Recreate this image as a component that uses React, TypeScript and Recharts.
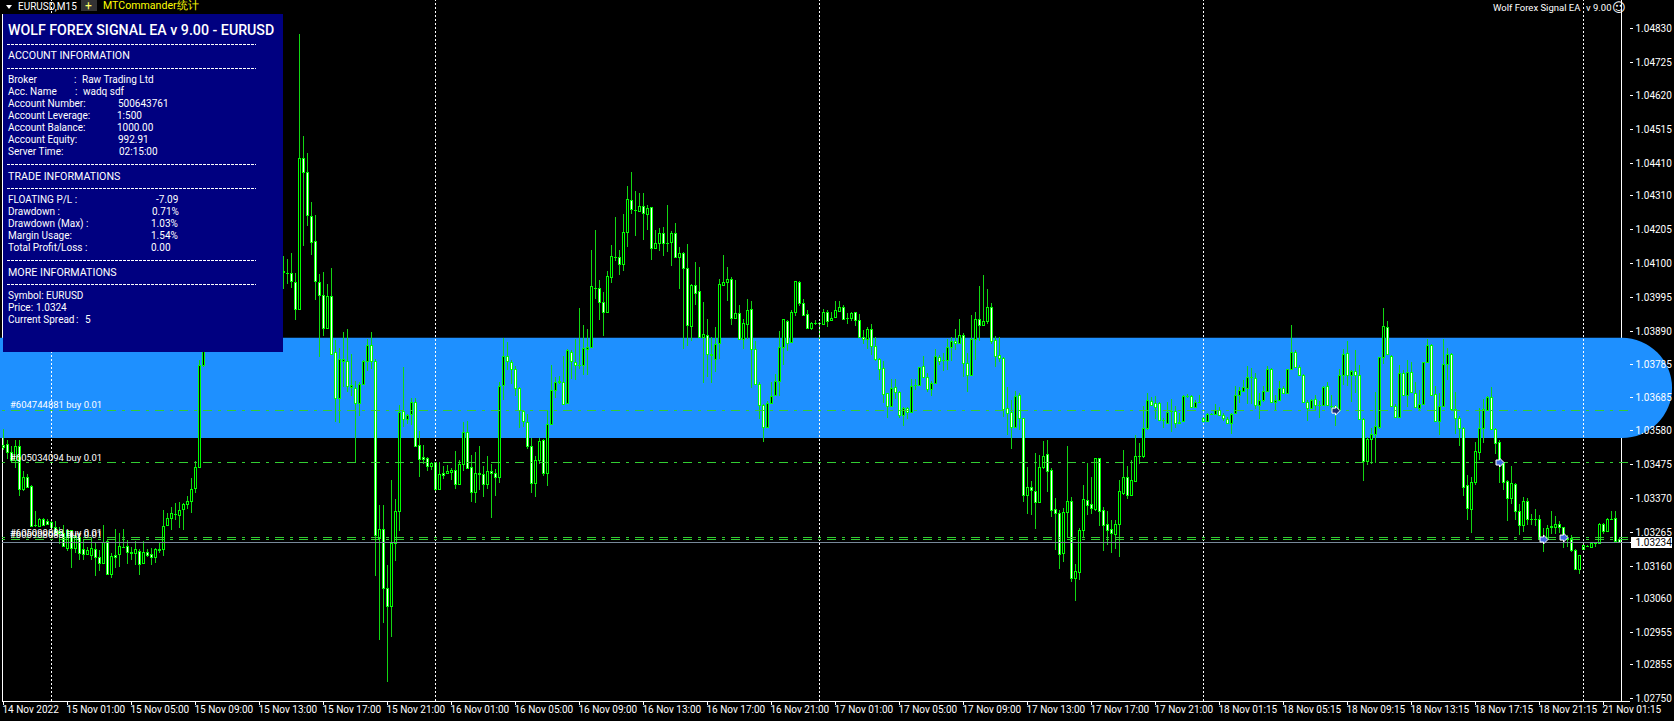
import React from "react";
import {
  ComposedChart,
  Bar,
  XAxis,
  YAxis,
  ReferenceLine,
  ReferenceArea,
  ReferenceDot,
} from "recharts";

// EURUSD M15, values in points (0.00001) above BASE_PRICE.
// Bars 51-69 sit behind the info panel, those are only rough estimates.
const BASE_PRICE = 1.03;

const opens = [
  536,538,515,491,534,401,438,410,288,285,307,301,296,282,270,262,218,272,217,251,
  212,198,194,215,189,171,238,135,195,197,220,224,203,200,208,171,205,199,189,210,
  212,288,311,322,319,337,352,364,403,469,786,835,856,878,862,895,920,908,945,970,
  955,995,1025,1010,1050,1075,1060,1090,1075,1100,1076,1069,1069,1043,958,1426,1385,1248,1171,1043,
  1002,901,999,824,681,798,796,715,714,667,726,796,848,796,249,277,93,37,233,332,
  643,616,634,671,535,498,495,472,483,401,449,449,454,458,416,476,576,467,391,451,
  445,414,455,451,438,722,813,795,771,712,643,609,534,419,491,552,450,603,707,731,
  733,667,826,795,784,784,835,841,1025,1025,981,950,1059,1121,1119,1099,1198,1296,1265,1264,
  1279,1254,1274,1148,1165,1196,1164,1166,1193,1121,1131,1085,907,1032,1013,872,879,818,804,852,
  1034,1043,1053,931,945,865,913,960,835,727,660,591,667,691,736,841,922,855,950,1041,
  978,942,901,915,915,913,948,923,934,951,964,931,931,948,924,873,865,896,845,803,
  775,697,659,715,702,631,652,640,723,724,781,749,711,730,811,799,800,842,860,854,
  877,792,753,866,927,910,920,964,862,817,806,652,638,593,691,619,382,405,395,361,
  467,507,458,337,324,200,329,362,122,143,271,365,353,338,495,334,290,275,261,290,
  388,436,381,426,503,502,590,674,666,668,615,606,641,643,607,612,689,689,653,669,
  612,612,634,634,646,628,618,606,635,693,705,712,747,744,660,675,705,772,671,676,
  713,699,772,826,780,753,671,650,678,662,660,718,659,658,645,755,823,753,767,755,
  616,487,554,570,592,809,902,813,659,623,759,692,764,699,651,664,793,846,694,612,
  656,787,819,647,619,588,411,339,423,516,588,645,685,586,545,482,424,371,416,332,
  288,363,307,307,306,250,244,285,281,290,281,249,247,210,151,215,224,221,232,231,
  290,268,308,309,244,
];
const highs = [
  585,551,533,551,553,456,446,412,331,309,310,306,303,300,282,287,274,274,256,262,
  241,220,251,231,210,287,241,200,275,262,275,241,220,239,215,238,215,217,217,231,
  336,326,344,355,358,357,379,435,486,800,860,870,890,905,900,935,950,960,985,1000,
  1010,1040,1060,1065,1090,1100,1110,1115,1120,1120,1123,1113,1131,1069,1812,1496,1442,1290,1250,1067,
  1074,1036,1085,862,839,888,898,820,735,733,800,867,886,802,350,350,163,429,370,660,
  779,634,681,681,579,536,500,485,483,483,471,474,466,518,490,608,611,505,515,533,
  471,502,476,461,731,870,855,800,781,715,645,634,559,502,557,556,645,784,746,750,
  812,834,831,867,963,909,895,1141,1204,1048,1010,1076,1157,1244,1141,1253,1340,1384,1325,1318,
  1318,1281,1276,1204,1209,1212,1281,1200,1227,1150,1136,1159,1036,1103,1088,979,929,872,903,1053,
  1126,1088,1057,1048,971,929,989,983,859,733,663,674,731,756,890,927,924,955,1047,1044,
  991,957,919,924,919,958,956,948,984,982,971,945,950,950,943,894,902,912,871,805,
  797,699,740,740,704,655,655,740,740,780,813,759,734,835,815,821,865,871,897,928,
  883,821,940,950,1030,1064,1021,976,875,871,809,716,676,704,697,621,467,425,511,505,
  549,552,466,372,335,341,533,374,167,278,412,482,436,495,495,345,332,304,304,428,
  521,471,490,568,544,658,697,685,689,671,619,669,679,658,635,692,695,691,676,692,
  624,635,637,664,653,635,623,637,718,716,738,782,775,759,699,720,783,775,692,735,
  718,772,909,830,786,756,676,678,692,672,718,733,692,662,772,834,860,770,832,785,
  619,562,588,701,811,961,922,816,664,785,770,801,793,733,707,795,865,849,720,697,
  865,837,823,702,625,592,443,438,545,650,678,689,716,588,552,485,428,471,418,353,
  376,371,322,337,319,278,288,332,316,299,283,257,257,212,195,226,226,233,235,295,
  295,309,330,332,250,
];
const lows = [
  520,491,481,463,379,394,403,284,282,282,285,288,272,256,228,220,210,155,200,179,
  179,194,179,129,146,168,135,121,153,158,215,166,179,166,135,166,191,163,170,200,
  194,285,274,303,277,274,339,327,388,467,779,826,840,850,845,880,900,895,930,945,
  940,980,1000,995,1030,1045,1040,1060,1050,1060,1022,1036,1022,922,957,1155,1214,1126,985,808,
  875,895,818,608,606,717,701,691,482,629,722,769,771,127,-70,-16,-200,-57,179,270,
  593,603,598,528,436,477,457,459,388,400,431,446,428,399,416,457,464,360,357,395,
  376,400,308,376,417,678,767,727,689,587,593,526,388,376,475,440,410,598,681,725,
  660,665,740,740,774,753,751,839,991,924,872,947,1040,1108,1062,1077,1152,1253,1185,1263,
  1173,1204,1110,1145,1138,1123,1136,1090,1118,1020,836,841,859,969,872,727,750,730,764,805,
  1030,983,907,927,862,837,865,714,722,619,546,590,665,689,689,784,829,852,938,965,
  938,898,893,909,865,909,902,920,932,948,927,912,921,906,868,852,835,816,798,738,
  666,621,656,679,621,597,617,638,705,722,747,699,687,728,785,764,769,798,831,852,
  745,701,751,800,860,906,912,850,780,792,624,568,524,588,583,361,322,319,276,358,
  462,392,314,210,151,173,247,109,53,117,247,322,322,332,283,209,226,202,214,190,
  381,370,378,424,480,498,583,658,619,612,588,604,578,590,604,609,684,650,650,666,
  609,610,632,633,625,609,606,573,633,666,702,664,664,647,618,671,703,669,645,673,
  697,697,770,775,751,666,611,647,645,618,658,658,643,597,643,723,721,671,697,614,
  423,475,475,482,588,788,816,654,619,619,689,656,697,651,645,660,790,690,609,566,
  654,738,645,573,531,378,302,264,412,490,540,643,583,506,420,397,302,353,304,257,
  268,288,288,285,244,202,242,262,260,262,217,221,205,149,136,213,222,221,221,229,
  262,265,302,234,233,
];
const closes = [
  531,515,491,534,401,438,406,285,288,307,288,292,282,262,262,223,272,218,253,200,
  198,210,218,189,171,236,135,193,190,224,220,205,200,212,168,203,195,189,215,215,
  286,311,324,322,336,352,364,401,467,786,835,856,878,862,895,920,908,945,970,955,
  995,1025,1010,1050,1075,1060,1090,1075,1100,1076,1074,1071,1044,958,1426,1383,1250,1166,1045,1003,
  901,999,820,683,802,802,720,722,667,726,796,848,796,256,277,91,37,231,332,638,
  616,630,671,533,494,493,472,480,401,445,444,455,459,416,476,576,464,391,451,445,
  414,455,450,436,719,813,797,771,712,645,611,534,419,491,548,450,603,707,731,735,
  665,831,797,786,784,836,842,1030,1023,981,950,1061,1122,1121,1099,1199,1299,1268,1265,1277,
  1257,1271,1149,1165,1196,1164,1164,1193,1120,1131,1087,909,1033,1009,872,882,818,815,851,1035,
  1041,1053,931,945,865,914,957,835,726,660,591,668,689,736,841,926,852,950,1044,978,
  940,901,914,914,915,949,920,932,955,964,928,930,945,923,871,865,896,845,803,773,
  695,656,712,702,631,652,638,720,723,778,749,709,730,814,797,799,842,860,852,877,
  792,753,865,927,910,920,964,860,814,805,649,637,593,687,619,382,405,397,361,467,
  503,457,335,326,198,329,364,122,144,272,368,351,342,495,333,289,274,264,290,393,
  436,381,428,502,502,590,675,660,655,614,613,638,641,606,604,689,689,653,671,669,
  621,634,634,646,628,619,606,634,693,708,715,749,747,660,676,705,772,671,676,713,
  699,772,826,778,753,669,650,676,662,662,716,660,659,651,755,820,755,767,755,616,
  488,554,570,594,809,906,819,656,623,759,692,764,702,654,664,793,846,693,612,658,
  787,819,647,619,588,407,342,421,517,590,647,685,585,542,490,423,373,418,333,288,
  363,306,307,307,249,237,280,281,290,283,252,244,209,152,195,225,224,232,232,290,
  268,306,308,239,234,
];

const timeLabels = [
  "14 Nov 2022", "15 Nov 01:00", "15 Nov 05:00", "15 Nov 09:00", "15 Nov 13:00", "15 Nov 17:00",
  "15 Nov 21:00", "16 Nov 01:00", "16 Nov 05:00", "16 Nov 09:00", "16 Nov 13:00", "16 Nov 17:00",
  "16 Nov 21:00", "17 Nov 01:00", "17 Nov 05:00", "17 Nov 09:00", "17 Nov 13:00", "17 Nov 17:00",
  "17 Nov 21:00", "18 Nov 01:15", "18 Nov 05:15", "18 Nov 09:15", "18 Nov 13:15", "18 Nov 17:15",
  "18 Nov 21:15", "21 Nov 01:15",
];
const BARS_PER_LABEL = 16;
const dayStarts = [12, 108, 204, 300, 395];

const CURRENT_PRICE = 1.03234;
const priceTicks = [
  1.0483, 1.04725, 1.0462, 1.04515, 1.0441, 1.0431, 1.04205, 1.041, 1.03995, 1.0389, 1.03785,
  1.03685, 1.0358, 1.03475, 1.0337, 1.03265, CURRENT_PRICE, 1.0316, 1.0306, 1.02955, 1.02855, 1.0275,
];

const orderLines = [
  { price: 1.03644, label: "#604744881 buy 0.01" },
  { price: 1.03482, label: "#605034094 buy 0.01" },
  { price: 1.03249, label: "#605090883 buy 0.01" },
  { price: 1.03243, label: "#606908083 buy 0.01" },
];
const entryArrows = [
  { bar: 333, price: 1.03643, fill: "#1c2a78" },
  { bar: 374, price: 1.03482, fill: "#4169e1" },
  { bar: 385, price: 1.03243, fill: "#4169e1" },
  { bar: 390, price: 1.03249, fill: "#4169e1" },
];
const BAND_TOP = 1.03869;
const BAND_BOTTOM = 1.03558;

const rows = opens.map((o, i) => ({
  bar: i,
  open: BASE_PRICE + o / 1e5,
  high: BASE_PRICE + highs[i] / 1e5,
  low: BASE_PRICE + lows[i] / 1e5,
  close: BASE_PRICE + closes[i] / 1e5,
  range: [BASE_PRICE + lows[i] / 1e5, BASE_PRICE + highs[i] / 1e5],
}));

const UI_FONT = "Roboto, 'Noto Sans', sans-serif";
const GREEN = "#00ff00";
const ORDER_GREEN = "#32cd32";

const Candle = (props: any) => {
  const { x, y, width, height, payload } = props;
  const perPrice = height / (payload.high - payload.low);
  const yOf = (v: number) => y + (payload.high - v) * perPrice;
  const xc = Math.floor(x + width / 2);
  const top = Math.round(yOf(Math.max(payload.open, payload.close)));
  const bottom = Math.round(yOf(Math.min(payload.open, payload.close)));
  const bodyH = Math.max(bottom - top + 1, 1);
  const fill = payload.close < payload.open ? "#ffffff" : "#000000";
  return (
    <g>
      <rect x={xc} y={Math.round(y)} width={1} height={Math.max(Math.round(height), 1)} fill="#12d612" />
      <rect x={xc - 1} y={top} width={3} height={bodyH} fill={GREEN} />
      {bodyH > 2 && <rect x={xc} y={top + 1} width={1} height={bodyH - 2} fill={fill} />}
    </g>
  );
};

// the band is an object on the chart, it covers both frame lines but not the prices
const BandShape = (props: any) => {
  const { x, y, width, height } = props;
  const right = x + width + 0.5;
  const r = height / 2;
  return (
    <g>
      <rect x={x + 0.5} y={14} width={1} height={687} fill="#fff" />
      <rect x={right - 1} y={0} width={1} height={701} fill="#fff" />
      <path
        d={`M0 ${y}H${right}A${r} ${r} 0 0 1 ${right} ${y + height}H0Z`}
        fill="#1e90ff"
        style={{ shapeRendering: "auto" }}
      />
    </g>
  );
};

const PriceTick = (props: any) => {
  const { y, payload } = props;
  const isCurrent = payload.value === CURRENT_PRICE;
  return (
    <g>
      {isCurrent && <rect x={1631} y={y - 5} width={41} height={11} fill="#fff" />}
      <text
        x={1635.5}
        y={y + 3.5}
        fill={isCurrent ? "#000" : "#fff"}
        fontFamily={UI_FONT}
        fontSize={10}
      >
        {payload.value.toFixed(5)}
      </text>
    </g>
  );
};

const TimeTick = (props: any) => {
  const { x, y, payload } = props;
  return (
    <text x={x - 1} y={y + 6} fill="#fff" fontFamily={UI_FONT} fontSize={10}>
      {timeLabels[payload.value / BARS_PER_LABEL]}
    </text>
  );
};

const OrderTag = (props: any) => {
  const { viewBox, text } = props;
  return (
    <text x={10} y={viewBox.y - 2} fill="#fff" fontFamily={UI_FONT} fontSize={9.5}>
      {text}
    </text>
  );
};

const ArrowShape = (props: any) => {
  const { cx, cy, fill } = props;
  const pts = [
    [-3.5, -2.5], [0, -2.5], [0, -4.5], [4.5, 0], [0, 4.5], [0, 2.5], [-3.5, 2.5],
  ].map(([a, b]) => `${cx + a},${cy + b}`).join(" ");
  return <polygon points={pts} fill={fill} stroke="#fff" strokeWidth={1} style={{ shapeRendering: "auto" }} />;
};

// the EA info panel, left/top in px inside the panel box
const panelHeads: [string, number][] = [
  ["ACCOUNT INFORMATION", 36],
  ["TRADE INFORMATIONS", 157],
  ["MORE INFORMATIONS", 253],
];
const panelTexts: [string, number, number][] = [
  ["Broker", 5, 60], [":", 71, 60], ["Raw Trading Ltd", 79, 60],
  ["Acc. Name", 5, 72], [":", 72, 72], ["wadq sdf", 80, 72],
  ["Account Number:", 5, 84], ["500643761", 115, 84],
  ["Account Leverage:", 5, 96], ["1:500", 114, 96],
  ["Account Balance:", 5, 108], ["1000.00", 114, 108],
  ["Account Equity:", 5, 120], ["992.91", 115, 120],
  ["Server Time:", 5, 132], ["02:15:00", 116, 132],
  ["FLOATING P/L :", 5, 180], ["-7.09", 153, 180],
  ["Drawdown :", 5, 192], ["0.71%", 149, 192],
  ["Drawdown (Max) :", 5, 204], ["1.03%", 148, 204],
  ["Margin Usage:", 5, 216], ["1.54%", 148, 216],
  ["Total Profit/Loss :", 5, 228], ["0.00", 148, 228],
  ["Symbol: EURUSD", 5, 276],
  ["Price:", 5, 288], ["1.0324", 33, 288],
  ["Current Spread", 5, 300], [":", 73, 300], ["5", 82, 300],
];
const panelRules = [30, 54, 150, 174, 246, 270];

const absText = (x: number, y: number, extra: React.CSSProperties = {}): React.CSSProperties => ({
  position: "absolute",
  left: x,
  top: y,
  whiteSpace: "pre",
  lineHeight: "12px",
  color: "#fff",
  fontFamily: UI_FONT,
  fontSize: 10,
  ...extra,
});

const InfoPanel = () => (
  <div style={{ position: "absolute", left: 3, top: 14, width: 280, height: 338, background: "#000080" }}>
    <div style={absText(5, 9, { fontSize: 14.2, fontWeight: 500, lineHeight: "14px" })}>
      WOLF FOREX SIGNAL EA v 9.00 - EURUSD
    </div>
    {panelRules.map((t) => (
      <div
        key={t}
        style={{
          position: "absolute",
          left: 4,
          top: t,
          width: 249,
          height: 1,
          background: "repeating-linear-gradient(90deg,#fff 0 3px,transparent 3px 4px)",
        }}
      />
    ))}
    {panelHeads.map(([t, y]) => (
      <div key={t} style={absText(5, y, { fontSize: 10.7 })}>
        {t}
      </div>
    ))}
    {panelTexts.map(([t, x, y]) => (
      <div key={t + x + y} style={absText(x, y)}>
        {t}
      </div>
    ))}
  </div>
);

const TabStrip = () => (
  <>
    <div
      style={{
        position: "absolute",
        left: 6,
        top: 5,
        width: 0,
        height: 0,
        borderLeft: "3.5px solid transparent",
        borderRight: "3.5px solid transparent",
        borderTop: "4px solid #fff",
      }}
    />
    <div style={absText(18, 1, { fontSize: 10 })}>EURUSD,M15</div>
    <div style={{ position: "absolute", left: 81, top: 0, width: 16, height: 11, background: "#333" }} />
    <div style={absText(85, 0, { fontSize: 12, color: "#ffff66" })}>+</div>
    <div style={absText(103, 0, { fontSize: 10.6, color: "#ffff00" })}>MTCommander统计</div>
    <div style={absText(1493, 2, { fontSize: 9.5 })}>Wolf Forex Signal EA</div>
    <div style={absText(1586, 2, { fontSize: 9.5 })}>v 9.00</div>
    <div style={absText(1612, 2, { fontSize: 13, fontFamily: "'DejaVu Sans'" })}>☺</div>
  </>
);

export default function App() {
  return (
    <div
      style={{
        position: "absolute",
        left: 0,
        top: 0,
        width: 1674,
        height: 721,
        background: "#000",
        overflow: "hidden",
      }}
    >
      <ComposedChart
        width={1674}
        height={721}
        data={rows}
        barCategoryGap={0}
        margin={{ top: 0, right: 0, bottom: 0, left: 1.5 }}
        style={{ shapeRendering: "crispEdges" }}
      >
        <XAxis
          dataKey="bar"
          height={20}
          padding={{ left: 0, right: 8 }}
          ticks={timeLabels.map((_, i) => i * BARS_PER_LABEL)}
          interval={0}
          tick={<TimeTick />}
          tickSize={4}
          tickLine={{ stroke: "#fff" }}
          axisLine={{ stroke: "#fff" }}
        />
        <YAxis
          orientation="right"
          width={44.5}
          domain={[1.027417, 1.049178]}
          allowDataOverflow
          ticks={priceTicks}
          interval={0}
          tick={<PriceTick />}
          tickSize={3}
          tickLine={{ stroke: "#fff" }}
          axisLine={false}
        />
        {dayStarts.map((b) => (
          <ReferenceLine key={b} x={b} stroke="#fff" strokeDasharray="2 2" />
        ))}
        <ReferenceArea y1={BAND_BOTTOM} y2={BAND_TOP} shape={<BandShape />} ifOverflow="visible" />
        {orderLines.map((l) => (
          <ReferenceLine
            key={l.price}
            y={l.price}
            stroke={ORDER_GREEN}
            strokeDasharray="9 6 3 6"
            strokeDashoffset={-1.5}
            label={<OrderTag text={l.label} />}
          />
        ))}
        <ReferenceLine y={CURRENT_PRICE} stroke="#778899" />
        <Bar dataKey="range" shape={<Candle />} isAnimationActive={false} />
        {entryArrows.map((a) => (
          <ReferenceDot key={a.bar} x={a.bar} y={a.price} fill={a.fill} shape={<ArrowShape />} />
        ))}
      </ComposedChart>
      <InfoPanel />
      <TabStrip />
    </div>
  );
}
